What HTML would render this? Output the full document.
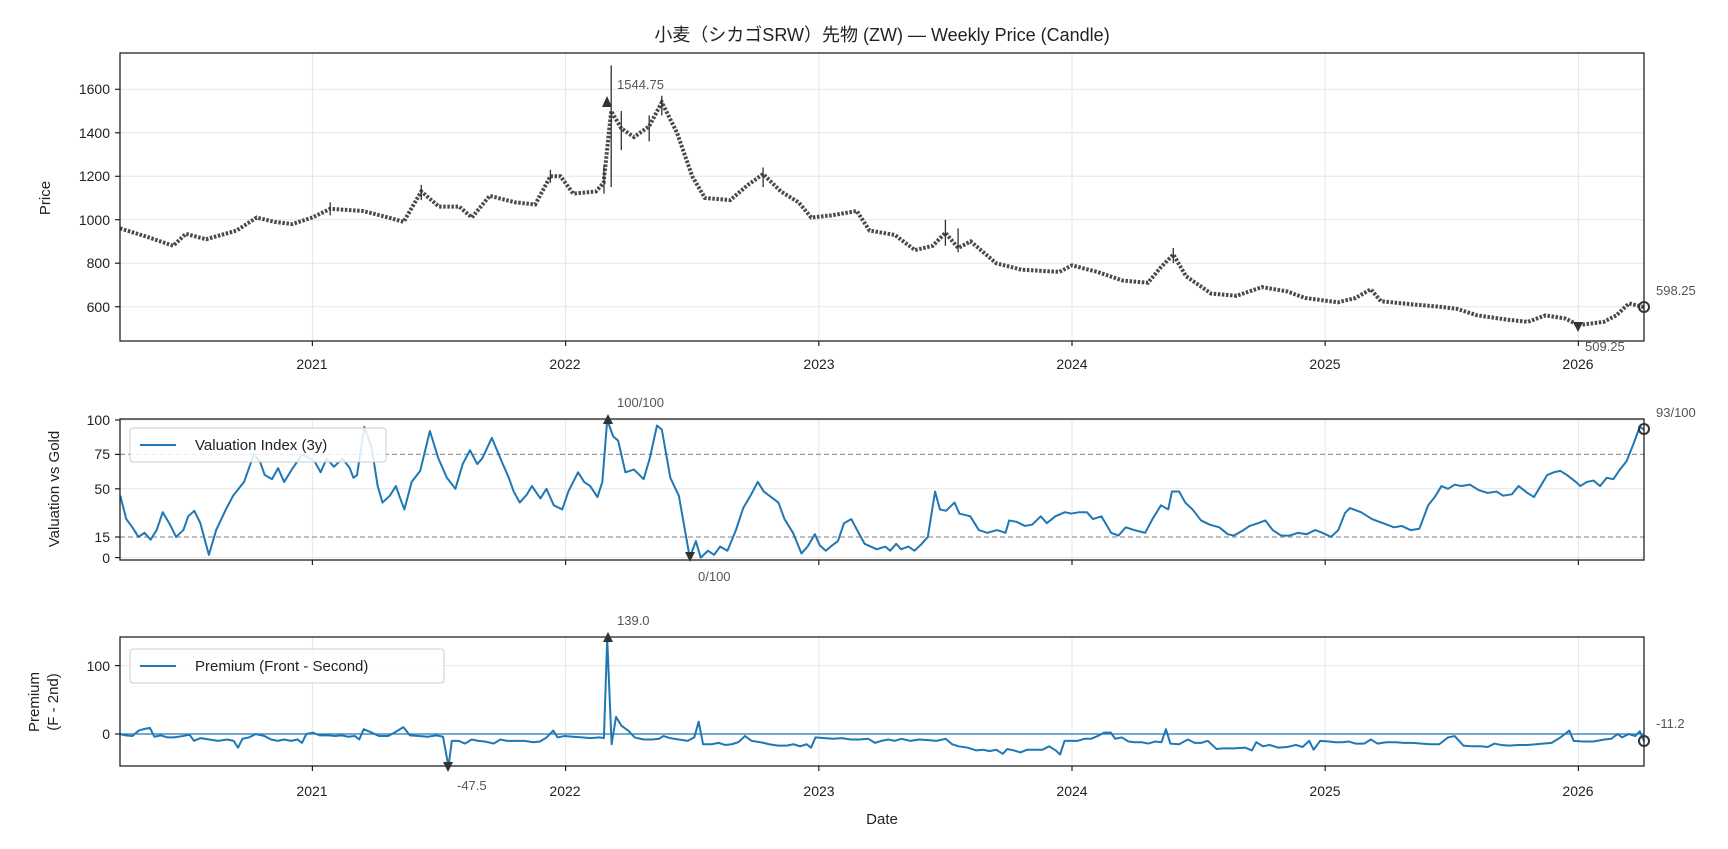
<!DOCTYPE html>
<html><head><meta charset="utf-8"><style>
html,body{margin:0;padding:0;background:#fff;}
svg{display:block;font-family:"Liberation Sans","Noto Sans CJK JP",sans-serif;}
.t{font-size:14px;fill:#222;}
.a{font-size:13px;fill:#555;}
.g line{stroke:#e6e6e6;stroke-width:1}
.k line{stroke:#222;stroke-width:1.2}
</style></head><body>
<svg width="1728" height="849" viewBox="0 0 1728 849" xmlns="http://www.w3.org/2000/svg">
<rect width="1728" height="849" fill="#fff"/>
<text x="882" y="41" text-anchor="middle" style="font-size:18px;fill:#222">小麦（シカゴSRW）先物 (ZW) — Weekly Price (Candle)</text>
<g class="g">
<line x1="312.4" x2="312.4" y1="53" y2="341"/><line x1="565.6" x2="565.6" y1="53" y2="341"/><line x1="818.8" x2="818.8" y1="53" y2="341"/><line x1="1072" x2="1072" y1="53" y2="341"/><line x1="1325.2" x2="1325.2" y1="53" y2="341"/><line x1="1578.4" x2="1578.4" y1="53" y2="341"/>
<line x1="312.4" x2="312.4" y1="419" y2="560"/><line x1="565.6" x2="565.6" y1="419" y2="560"/><line x1="818.8" x2="818.8" y1="419" y2="560"/><line x1="1072" x2="1072" y1="419" y2="560"/><line x1="1325.2" x2="1325.2" y1="419" y2="560"/><line x1="1578.4" x2="1578.4" y1="419" y2="560"/>
<line x1="312.4" x2="312.4" y1="637" y2="766"/><line x1="565.6" x2="565.6" y1="637" y2="766"/><line x1="818.8" x2="818.8" y1="637" y2="766"/><line x1="1072" x2="1072" y1="637" y2="766"/><line x1="1325.2" x2="1325.2" y1="637" y2="766"/><line x1="1578.4" x2="1578.4" y1="637" y2="766"/>
<line x1="120" x2="1644" y1="89.3" y2="89.3"/><line x1="120" x2="1644" y1="132.8" y2="132.8"/><line x1="120" x2="1644" y1="176.3" y2="176.3"/><line x1="120" x2="1644" y1="219.7" y2="219.7"/><line x1="120" x2="1644" y1="263.2" y2="263.2"/><line x1="120" x2="1644" y1="306.7" y2="306.7"/>
<line x1="120" x2="1644" y1="420" y2="420"/><line x1="120" x2="1644" y1="488.8" y2="488.8"/><line x1="120" x2="1644" y1="557.6" y2="557.6"/>
<line x1="120" x2="1644" y1="665.6" y2="665.6"/>
</g>
<line x1="120" x2="1644" y1="454.4" y2="454.4" stroke="#999" stroke-width="1.2" stroke-dasharray="5,3"/>
<line x1="120" x2="1644" y1="537" y2="537" stroke="#999" stroke-width="1.2" stroke-dasharray="5,3"/>
<line x1="120" x2="1644" y1="734" y2="734" stroke="#1f77b4" stroke-width="1.2"/>

<!-- price -->
<g transform="translate(0,437.1) scale(1,-0.2174)">
<polyline vector-effect="non-scaling-stroke" fill="none" stroke="#4a4a4a" stroke-width="4" stroke-dasharray="2.5,1.6" points="120,960 147.9,920 173.2,880 185.8,935 206.1,910 236.5,950 256.7,1010 274.5,990 292.2,980 312.4,1010 330.2,1050 363.1,1040 388.4,1010 403.6,990 421.3,1130 439,1060 459.3,1060 471.9,1010 489.7,1110 515,1080 535.2,1070 550.4,1200 560.5,1200 573.2,1120 596,1130 603.6,1170 611.2,1500 621.3,1420 634,1380 649.2,1430 661.8,1540 677,1400 692.2,1200 704.9,1100 730.2,1090 747.9,1160 763.1,1210 780.8,1130 798.6,1080 811.2,1010 831.5,1020 856.8,1040 869.5,950 894.8,930 915,860 932.8,880 945.4,940 958.1,870 970.7,900 996.1,800 1021.4,770 1059.4,760 1072,790 1097.3,760 1122.7,720 1148,710 1160.6,780 1173.3,840 1186,740 1211.3,660 1236.6,650 1261.9,690 1287.2,670 1305,640 1337.9,620 1355.6,640 1370.8,680 1380.9,625 1413.8,610 1439.1,600 1456.9,590 1477.1,560 1507.5,540 1527.8,530 1545.5,560 1565.7,545 1578.4,515 1603.7,530 1616.4,560 1629,615 1644,598"/>
<path vector-effect="non-scaling-stroke" stroke="#333" stroke-width="1.3" d="M611.2,1150V1710M621.3,1320V1500M649.2,1360V1480M661.8,1480V1570M604,1120V1250M945.4,880V1000M958.1,850V960M1173.3,800V870M330.2,1020V1080M421.3,1090V1160M550.4,1170V1230M763.1,1150V1240"/>
</g>

<!-- valuation part 1 -->
<g transform="translate(0,557.6) scale(1.2144,-1.376)">
<polyline vector-effect="non-scaling-stroke" fill="none" stroke="#1f77b4" stroke-width="2" stroke-linejoin="round" points="99,45 104,28 109,22 114,15 119,18 124,13 129,20 134,33 140,24 145,15 151,20 155,30 160,34 165,25 172,2 178,20 186,35 192,45 201,55 209,75 214,70 218,60 224,57 229,65 234,55 241,65 249,75 259,70 264,62 269,72 275,66 282,72 288,65 291,58 294,60 300,95 306,80 311,52 315,40 321,45 326,52 330,42 333,35 339,55 346,63 354,92 361,72 368,58 375,50 381,68 387,78 393,68 397,72 405,87 414,68 419,58 423,48 428,40 434,46 438,52 445,43 450,50 456,38 463,35 468,48 476,62 481,55 486,52 492,44 496,55 500,100 505,88 509,85 515,62 522,64 530,57 535,72 541,96 545,93 552,58 559,45 568,0 573,12 577,0 583,5 588,2 593,8 599,5 606,20 612,36 618,45 624,55 629,48 635,44 641,40 646,28 653,18 660,3 665,8 671,17 675,9 680,5 684,8 690,12 695,25 701,28 707,18 712,10 717,8 722,6 729,8 733,5 738,10 742,6 748,8 753,5 759,10 764,15 770,48 774,35 779,34 786,40 790,32 799,30 806,20 813,18 821,20 828,18 831,27 837,26 844,23 850,24 857,30 862,25 869,30 877,33 882,32 889,33 895,33 900,28 907,30 915,18 921,16 927,22 934,20 943,18 949,28 956,38 962,35 965,48 971,48 976,40 982,35 989,27 996,24 1004,22 1011,17 1016,16 1024,20 1029,23 1036,25 1042,27 1048,20 1055,16 1062,16 1069,18 1076,17 1083,20 1089,18 1096,15 1102,20 1107.4,32"/>
</g>
<!-- valuation part 2 -->
<g transform="translate(0,557.6) scale(1.102,-1.376)">
<polyline vector-effect="non-scaling-stroke" fill="none" stroke="#1f77b4" stroke-width="2" stroke-linejoin="round" points="1220,32 1225,36 1235,33 1245,28 1255,25 1265,22 1272,23 1280,20 1288,21 1296,38 1302,44 1308,52 1314,50 1320,53 1326,52 1334,53 1342,49 1350,47 1358,48 1364,45 1372,46 1378,52 1386,47 1392,44 1398,52 1404,60 1410,62 1416,63 1422,60 1430,55 1434,52 1440,55 1446,56 1452,52 1458,58 1464,57 1470,64 1476,70 1482,82 1488,95 1492,93"/>
</g>

<!-- premium -->
<g transform="translate(0,734) scale(1.102,-0.684)">
<polyline vector-effect="non-scaling-stroke" fill="none" stroke="#1f77b4" stroke-width="2" stroke-linejoin="round" points="109,0 114,-2 120,-3 126,5 130,7 136,9 140,-4 146,-2 152,-5 158,-5 166,-3 172,-1 176,-10 182,-6 190,-8 198,-10 206,-8 212,-10 216,-20 220,-7 226,-5 232,0 240,-3 246,-8 252,-10 258,-8 264,-10 270,-8 274,-13 278,0 284,2 290,-2 298,-2 304,-3 310,-2 316,-4 322,-3 326,-8 330,7 336,3 344,-3 352,-3 358,2 366,10 372,-2 380,-3 388,-4 396,-2 402,-4 407,-47.5 410,-10 416,-10 422,-14 428,-8 434,-10 440,-11 448,-14 454,-8 460,-10 468,-10 476,-10 484,-12 490,-11 496,-5 502,5 506,-5 512,-3 520,-4 528,-5 536,-6 544,-5 548,-6 551,139 555,-15 559,25 564,12 570,5 576,-5 584,-8 592,-8 598,-7 602,-3 608,-6 616,-8 624,-10 630,-5 634,18 638,-15 646,-15 652,-13 658,-16 664,-15 670,-12 676,-3 682,-10 690,-12 698,-15 706,-17 714,-17 720,-15 726,-18 732,-15 736,-20 740,-5 748,-6 756,-7 764,-6 772,-8 780,-8 788,-7 794,-13 800,-10 806,-8 812,-10 818,-7 826,-10 834,-8 842,-9 850,-10 858,-7 864,-15 870,-18 878,-20 886,-24 892,-23 898,-25 904,-23 910,-29 914,-22 920,-24 926,-27 932,-23 938,-23 946,-23 952,-18 958,-24 962,-30 966,-10 972,-10 978,-10 984,-7 990,-7 996,-3 1002,2 1008,2 1012,-7 1018,-5 1024,-11 1030,-12 1036,-12 1042,-14 1048,-11 1054,-12 1058,7 1062,-14 1070,-15 1078,-8 1084,-13 1090,-13 1096,-10 1104,-22 1110,-21 1120,-21 1130,-20 1136,-24 1140,-12 1146,-18 1152,-16 1160,-20 1168,-19 1176,-16 1182,-19 1188,-10 1192,-23 1198,-10 1206,-11 1212,-12 1218,-12 1224,-11 1230,-14 1238,-14 1244,-8 1250,-14 1258,-12 1266,-12 1274,-13 1282,-13 1290,-14 1298,-15 1306,-15 1314,-5 1320,-3 1328,-17 1336,-18 1344,-18 1350,-19 1356,-14 1362,-16 1370,-17 1378,-16 1386,-16 1394,-15 1400,-14 1408,-13 1416,-5 1420,0 1424,5 1428,-10 1436,-11 1446,-11 1456,-8 1462,-7 1468,0 1472,-5 1478,0 1484,-3 1488,4 1492,-11"/>
</g>

<g fill="none" stroke="#222" stroke-width="1.3">
<rect x="120" y="53" width="1524" height="288"/>
<rect x="120" y="419" width="1524" height="141"/>
<rect x="120" y="637" width="1524" height="129"/>
</g>
<g class="k">
<line x1="312.4" x2="312.4" y1="341" y2="346"/><line x1="565.6" x2="565.6" y1="341" y2="346"/><line x1="818.8" x2="818.8" y1="341" y2="346"/><line x1="1072" x2="1072" y1="341" y2="346"/><line x1="1325.2" x2="1325.2" y1="341" y2="346"/><line x1="1578.4" x2="1578.4" y1="341" y2="346"/>
<line x1="312.4" x2="312.4" y1="560" y2="565"/><line x1="565.6" x2="565.6" y1="560" y2="565"/><line x1="818.8" x2="818.8" y1="560" y2="565"/><line x1="1072" x2="1072" y1="560" y2="565"/><line x1="1325.2" x2="1325.2" y1="560" y2="565"/><line x1="1578.4" x2="1578.4" y1="560" y2="565"/>
<line x1="312.4" x2="312.4" y1="766" y2="771"/><line x1="565.6" x2="565.6" y1="766" y2="771"/><line x1="818.8" x2="818.8" y1="766" y2="771"/><line x1="1072" x2="1072" y1="766" y2="771"/><line x1="1325.2" x2="1325.2" y1="766" y2="771"/><line x1="1578.4" x2="1578.4" y1="766" y2="771"/>
<line x1="115" x2="120" y1="89.3" y2="89.3"/><line x1="115" x2="120" y1="132.8" y2="132.8"/><line x1="115" x2="120" y1="176.3" y2="176.3"/><line x1="115" x2="120" y1="219.7" y2="219.7"/><line x1="115" x2="120" y1="263.2" y2="263.2"/><line x1="115" x2="120" y1="306.7" y2="306.7"/>
<line x1="115" x2="120" y1="420" y2="420"/><line x1="115" x2="120" y1="454.4" y2="454.4"/><line x1="115" x2="120" y1="488.8" y2="488.8"/><line x1="115" x2="120" y1="537" y2="537"/><line x1="115" x2="120" y1="557.6" y2="557.6"/>
<line x1="115" x2="120" y1="665.6" y2="665.6"/><line x1="115" x2="120" y1="734" y2="734"/>
</g>
<g class="t" text-anchor="end">
<text x="110" y="94">1600</text><text x="110" y="138">1400</text><text x="110" y="181">1200</text>
<text x="110" y="225">1000</text><text x="110" y="268">800</text><text x="110" y="312">600</text>
<text x="110" y="425">100</text><text x="110" y="459">75</text><text x="110" y="494">50</text>
<text x="110" y="542">15</text><text x="110" y="563">0</text>
<text x="110" y="671">100</text><text x="110" y="739">0</text>
</g>
<g class="t" text-anchor="middle">
<text x="312" y="369">2021</text><text x="565" y="369">2022</text><text x="819" y="369">2023</text>
<text x="1072" y="369">2024</text><text x="1325" y="369">2025</text><text x="1578" y="369">2026</text>
<text x="312" y="796">2021</text><text x="565" y="796">2022</text><text x="819" y="796">2023</text>
<text x="1072" y="796">2024</text><text x="1325" y="796">2025</text><text x="1578" y="796">2026</text>
<text x="882" y="824" style="font-size:15px">Date</text>
</g>
<text class="t" transform="translate(50,198) rotate(-90)" text-anchor="middle" style="font-size:15px">Price</text>
<text class="t" transform="translate(59,489) rotate(-90)" text-anchor="middle" style="font-size:15px">Valuation vs Gold</text>
<text class="t" transform="translate(39,702) rotate(-90)" text-anchor="middle" style="font-size:15px">Premium</text>
<text class="t" transform="translate(58,702) rotate(-90)" text-anchor="middle" style="font-size:15px">(F - 2nd)</text>
<rect x="130" y="428" width="256" height="34" rx="3" fill="#fff" fill-opacity="0.85" stroke="#ccc"/>
<line x1="140" y1="445" x2="176" y2="445" stroke="#1f77b4" stroke-width="2"/>
<text class="t" x="195" y="450" style="font-size:15px">Valuation Index (3y)</text>
<rect x="130" y="649" width="314" height="34" rx="3" fill="#fff" fill-opacity="0.85" stroke="#ccc"/>
<line x1="140" y1="666" x2="176" y2="666" stroke="#1f77b4" stroke-width="2"/>
<text class="t" x="195" y="671" style="font-size:15px">Premium (Front - Second)</text>
<g fill="#333">
<path d="M602,107 L612,107 L607,96 Z"/>
<path d="M1573,322 L1583,322 L1578,332 Z"/>
<path d="M603,424 L613,424 L608,414 Z"/>
<path d="M685,552 L695,552 L690,562 Z"/>
<path d="M603,642 L613,642 L608,632 Z"/>
<path d="M443,762 L453,762 L448,772 Z"/>
</g>
<g fill="none" stroke="#333" stroke-width="2">
<circle cx="1644" cy="307" r="5"/><circle cx="1644" cy="429" r="5"/><circle cx="1644" cy="741" r="5"/>
</g>
<g class="a">
<text x="617" y="89">1544.75</text>
<text x="1585" y="351">509.25</text>
<text x="1656" y="295">598.25</text>
<text x="617" y="407">100/100</text>
<text x="698" y="581">0/100</text>
<text x="1656" y="417">93/100</text>
<text x="617" y="625">139.0</text>
<text x="457" y="790">-47.5</text>
<text x="1656" y="728">-11.2</text>
</g>
</svg>
</body></html>
